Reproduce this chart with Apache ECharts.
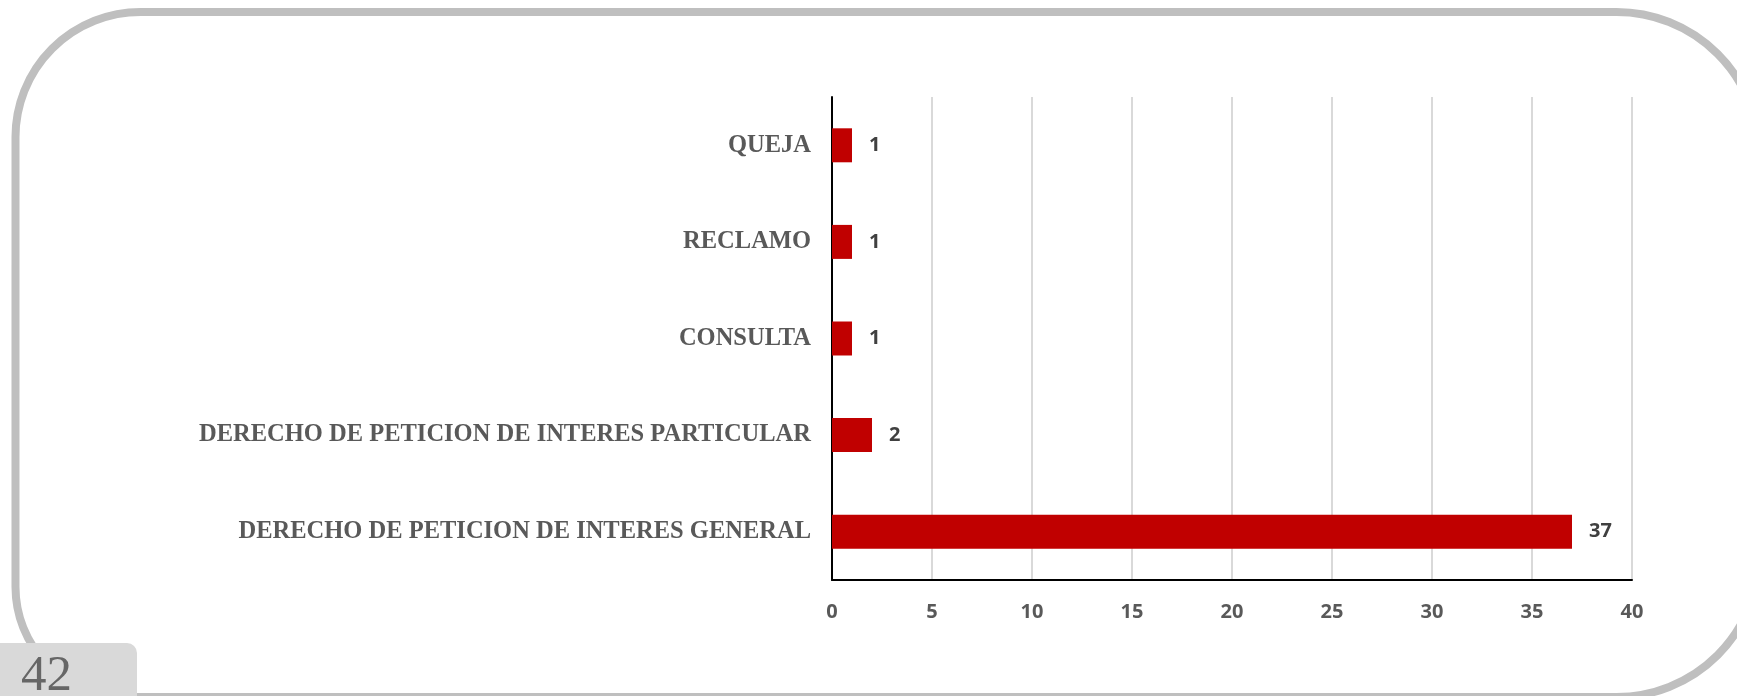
<!DOCTYPE html>
<html lang="es">
<head>
    <meta charset="utf-8">
    <title>Tipos de peticiones</title>
    <script src="https://cdn.jsdelivr.net/npm/echarts@6/dist/echarts.min.js"></script>
    <style>
        html, body { margin: 0; padding: 0; background: #fff; }
        #grafica { width: 1737px; height: 696px; }
    </style>
</head>
<body>
<div id="grafica"></div>
<script type="text/javascript">
    // datos, de arriba hacia abajo
    var categorias = ['QUEJA', 'RECLAMO', 'CONSULTA',
        'DERECHO DE PETICION DE INTERES PARTICULAR',
        'DERECHO DE PETICION DE INTERES GENERAL'];
    var valores = [1, 1, 1, 2, 37];
    var numeroPagina = '42';

    var myChart = echarts.init(document.getElementById('grafica'));

    var option = {
        backgroundColor: '#ffffff',
        animation: false,
        grid: {
            left: 832,
            right: 105,
            top: 97,
            bottom: 116
        },
        xAxis: {
            type: 'value',
            min: 0,
            max: 40,
            interval: 5,
            axisLine: {show: true, lineStyle: {color: '#000000', width: 2}},
            axisTick: {show: false},
            splitLine: {show: true, lineStyle: {color: '#d9d9d9', width: 2}},
            axisLabel: {
                margin: 22,
                color: '#595959',
                fontFamily: 'Open Sans',
                fontWeight: 'bold',
                fontSize: 20
            }
        },
        yAxis: {
            type: 'category',
            inverse: true,
            data: categorias,
            axisLine: {show: true, lineStyle: {color: '#000000', width: 2}},
            axisTick: {show: false},
            axisLabel: {
                margin: 21,
                color: '#595959',
                fontFamily: 'Liberation Serif',
                fontWeight: 'bold',
                fontSize: 24.5
            }
        },
        series: [{
            type: 'bar',
            data: valores,
            barWidth: 34,
            itemStyle: {color: '#c00000'},
            label: {
                show: true,
                position: 'right',
                distance: 17,
                color: '#404040',
                fontFamily: 'Open Sans',
                fontWeight: 'bold',
                fontSize: 20
            }
        }],
        graphic: [
            {
                // marco redondeado
                type: 'rect',
                z: -10,
                shape: {x: 15.5, y: 12, width: 1744, height: 685, r: [125, 143, 143, 110]},
                style: {fill: 'none', stroke: '#bfbfbf', lineWidth: 8}
            },
            {
                type: 'rect',
                z: 10,
                shape: {x: -10, y: 643, width: 147, height: 70, r: [0, 10, 0, 0]},
                style: {fill: '#d9d9d9'}
            },
            {
                type: 'text',
                z: 11,
                style: {
                    text: numeroPagina,
                    x: 21,
                    y: 677,
                    verticalAlign: 'middle',
                    fontFamily: 'Liberation Serif',
                    fontSize: 51,
                    fill: '#666666'
                }
            }
        ]
    };

    myChart.setOption(option);
</script>
</body>
</html>
